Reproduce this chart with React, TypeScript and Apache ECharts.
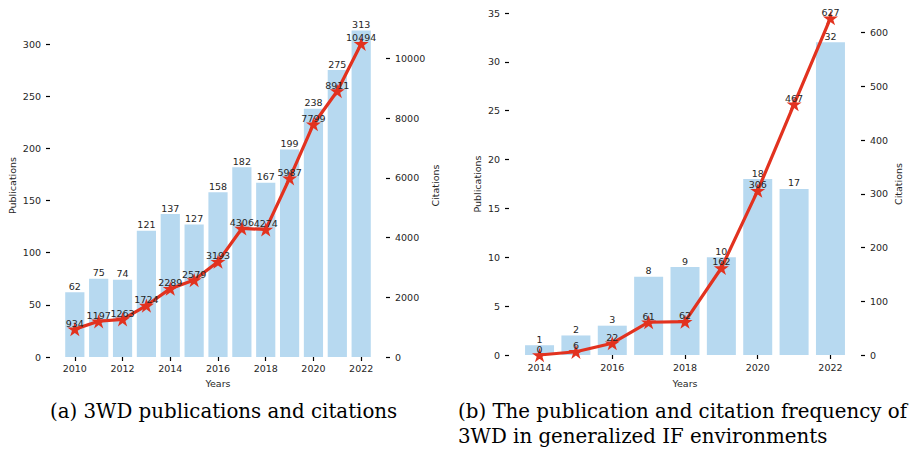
import React, { useEffect, useRef } from "react";
import * as echarts from "echarts";

// ---- Data: (a) 3WD publications and citations ----
const yearsA = [2010, 2011, 2012, 2013, 2014, 2015, 2016, 2017, 2018, 2019, 2020, 2021, 2022];
const pubsA = [62, 75, 74, 121, 137, 127, 158, 182, 167, 199, 238, 275, 313];
const citesA = [934, 1197, 1263, 1724, 2289, 2579, 3193, 4306, 4274, 5987, 7799, 8911, 10494];
const xTicksA = [2010, 2012, 2014, 2016, 2018, 2020, 2022];
const pubTicksA = [0, 50, 100, 150, 200, 250, 300];
const citeTicksA = [0, 2000, 4000, 6000, 8000, 10000];

// ---- Data: (b) generalized IF environments ----
const yearsB = [2014, 2015, 2016, 2017, 2018, 2019, 2020, 2021, 2022];
const pubsB = [1, 2, 3, 8, 9, 10, 18, 17, 32];
const citesB = [0, 6, 22, 61, 62, 162, 306, 467, 627];
const xTicksB = [2014, 2016, 2018, 2020, 2022];
const pubTicksB = [0, 5, 10, 15, 20, 25, 30, 35];
const citeTicksB = [0, 100, 200, 300, 400, 500, 600];

const captionA = "(a) 3WD publications and citations";
const captionB1 = "(b) The publication and citation frequency of";
const captionB2 = "3WD in generalized IF environments";

const BAR = "#b7d9f0";
const RED = "#e2321f";
const TXT = "#262626";
const FONT = "DejaVu Sans";
const FS = 9.5;
const CAP_FONT = "DejaVu Serif";
const CAP_FS = 19.8;

function starPath(): string {
  const pts: string[] = [];
  const R = 1;
  const r = 0.382;
  for (let i = 0; i < 10; i++) {
    const a = -Math.PI / 2 + (i * Math.PI) / 5;
    const rad = i % 2 === 0 ? R : r;
    const x = (rad * Math.cos(a)).toFixed(4);
    const y = (rad * Math.sin(a)).toFixed(4);
    pts.push((i === 0 ? "M" : "L") + x + " " + y);
  }
  return "path://" + pts.join(" ") + " Z";
}

export default function App() {
  const ref = useRef<HTMLDivElement>(null);
  useEffect(() => {
    if (!ref.current) return;
    const chart = echarts.init(ref.current, undefined, { renderer: "svg" });
    const STAR = starPath();

    const xAxisBase = (gridIndex: number, min: number, max: number, ticks: number[], margin: number, gap: number) => ({
      type: "value",
      gridIndex,
      min,
      max,
      name: "Years",
      nameLocation: "middle",
      nameGap: gap,
      nameTextStyle: { fontFamily: FONT, fontSize: FS, color: TXT },
      axisLine: { show: false },
      splitLine: { show: false },
      axisTick: { show: true, length: 4, inside: false, customValues: ticks, lineStyle: { color: "#000", width: 1.2 } },
      axisLabel: { customValues: ticks, margin, fontFamily: FONT, fontSize: FS, color: TXT, formatter: (v: number) => String(v) },
    });

    const yAxisBase = (
      gridIndex: number,
      position: "left" | "right",
      max: number,
      ticks: number[],
      name: string,
      gap: number
    ) => ({
      type: "value",
      gridIndex,
      position,
      min: 0,
      max,
      name,
      nameLocation: "middle",
      nameGap: gap,
      nameTextStyle: { fontFamily: FONT, fontSize: FS, color: TXT },
      axisLine: { show: false },
      splitLine: { show: false },
      axisTick: { show: true, length: 4, inside: false, customValues: ticks, lineStyle: { color: "#000", width: 1.2 } },
      axisLabel: { customValues: ticks, margin: 9, fontFamily: FONT, fontSize: FS, color: TXT, formatter: (v: number) => String(v) },
    });

    const barSeries = (xi: number, yi: number, xs: number[], vs: number[], w: number) => ({
      type: "bar",
      xAxisIndex: xi,
      yAxisIndex: yi,
      data: xs.map((x, i) => [x, vs[i]]),
      barWidth: w,
      itemStyle: { color: BAR },
      label: { show: true, position: "top", distance: 1, fontFamily: FONT, fontSize: FS, color: TXT, formatter: (p: any) => String(p.value[1]) },
      z: 2,
    });

    const lineSeries = (xi: number, yi: number, xs: number[], vs: number[]) => ({
      type: "line",
      xAxisIndex: xi,
      yAxisIndex: yi,
      data: xs.map((x, i) => [x, vs[i]]),
      lineStyle: { color: RED, width: 3.2 },
      itemStyle: { color: RED },
      symbol: STAR,
      symbolKeepAspect: true,
      symbolSize: 15,
      showAllSymbol: true,
      label: { show: true, position: "inside", offset: [0, -6], fontFamily: FONT, fontSize: FS, color: TXT, formatter: (p: any) => String(p.value[1]) },
      z: 3,
    });

    chart.setOption({
      animation: false,
      backgroundColor: "#ffffff",
      grid: [
        { left: 50, top: 14, width: 336, height: 343 },
        { left: 509, top: 13, width: 352, height: 342 },
      ],
      xAxis: [
        xAxisBase(0, 2008.96, 2023.04, xTicksA, 6, 21),
        xAxisBase(1, 2013.16, 2022.84, xTicksB, 7, 23),
      ],
      yAxis: [
        yAxisBase(0, "left", 328.8, pubTicksA, "Publications", 33),
        yAxisBase(0, "right", 11491, citeTicksA, "Citations", 44),
        yAxisBase(1, "left", 35, pubTicksB, "Publications", 27),
        yAxisBase(1, "right", 636.7, citeTicksB, "Citations", 32),
      ],
      series: [
        barSeries(0, 0, yearsA, pubsA, 19.2),
        lineSeries(0, 1, yearsA, citesA),
        barSeries(1, 2, yearsB, pubsB, 29),
        lineSeries(1, 3, yearsB, citesB),
      ],
      graphic: [
        { type: "text", left: 50, top: 401, style: { text: captionA, fontFamily: CAP_FONT, fontSize: CAP_FS, fill: "#000" } },
        { type: "text", left: 458, top: 401, style: { text: captionB1, fontFamily: CAP_FONT, fontSize: CAP_FS, fill: "#000" } },
        { type: "text", left: 458, top: 426, style: { text: captionB2, fontFamily: CAP_FONT, fontSize: CAP_FS, fill: "#000" } },
      ],
    });
    return () => chart.dispose();
  }, []);
  return <div ref={ref} style={{ position: "fixed", left: 0, top: 0, width: 918, height: 452 }} />;
}
